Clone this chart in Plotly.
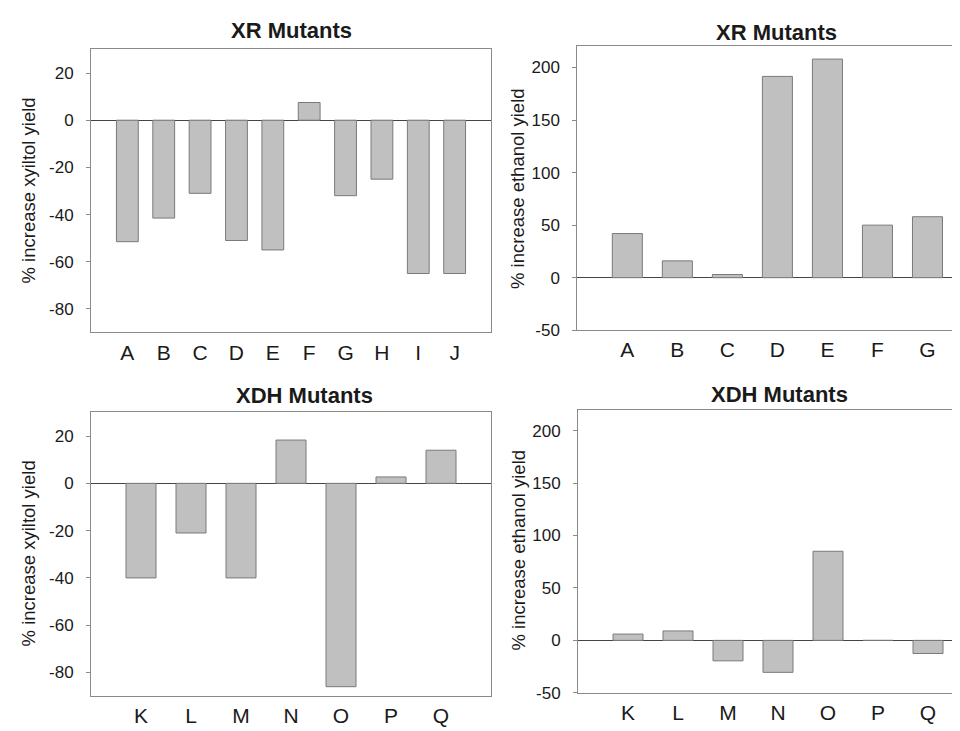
import plotly.graph_objects as go

W, H = 960, 731

# ---- data ----
xr_cats = ["A", "B", "C", "D", "E", "F", "G", "H", "I", "J"]
xr_xylitol = [-51.5, -41.5, -31, -51, -55, 7.5, -32, -25, -65, -65]

xr_eth_cats = ["A", "B", "C", "D", "E", "F", "G"]
xr_ethanol = [42, 16, 3, 191.5, 208, 50, 58]

xdh_cats = ["K", "L", "M", "N", "O", "P", "Q"]
xdh_xylitol = [-40, -21, -40, 18.3, -86, 2.7, 14]
xdh_ethanol = [6, 9, -19.5, -30.5, 85, 0, -12.5]

xyl_ticks = [-80, -60, -40, -20, 0, 20]
xyl_ticktext = ["-80", "-60", "-40", "-20", "0", "20"]
eth_ticks = [-50, 0, 50, 100, 150, 200]
eth_ticktext = ["-50", "0", "50", "100", "150", "200"]

titles = ["XR Mutants", "XR Mutants", "XDH Mutants", "XDH Mutants"]
ytitles = ["% increase xyiltol yield", "% increase ethanol yield",
           "% increase xyiltol yield", "% increase ethanol yield"]

FONT = "Liberation Sans, Arial, sans-serif"
TXT = "#1a1a1a"
AX = "#8a8a8a"

# panel pixel boxes: (left, right, top, bottom)
panels = [
    dict(cats=xr_cats, vals=xr_xylitol, box=(83, 483, 42, 329), yr=[-90, 30],
         tv=xyl_ticks, tt=xyl_ticktext,
         xr=[-1, 10], mirror=True, title_xy=(283, 23), yt_xy=(20, 185)),
    dict(cats=xr_eth_cats, vals=xr_ethanol, box=(569.3, 960, 39, 326.7), yr=[-50, 220],
         tv=eth_ticks, tt=eth_ticktext,
         xr=[-1, 6.81], mirror=False, title_xy=(768, 24.5), yt_xy=(509.5, 183)),
    dict(cats=xdh_cats, vals=xdh_xylitol, box=(83, 483, 410, 697.7), yr=[-90, 30],
         tv=xyl_ticks, tt=xyl_ticktext,
         xr=[-1, 7], mirror=True, title_xy=(296, 392.5), yt_xy=(20, 553)),
    dict(cats=xdh_cats, vals=xdh_ethanol, box=(570, 960, 407.3, 694.3), yr=[-50, 220],
         tv=eth_ticks, tt=eth_ticktext,
         xr=[-1, 6.8], mirror=False, title_xy=(771, 392), yt_xy=(510, 550)),
]

fig = go.Figure()
annotations = []
layout = {}
for i, p in enumerate(panels):
    n = "" if i == 0 else str(i + 1)
    l, r, t, b = p["box"]
    idx = list(range(len(p["cats"])))
    fig.add_trace(go.Bar(
        x=idx, y=p["vals"], width=0.6,
        marker=dict(color="#c0c0c0", line=dict(color="#7a7a7a", width=1)),
        xaxis="x" + n, yaxis="y" + n, showlegend=False, hoverinfo="x+y",
    ))
    layout["xaxis" + n] = dict(
        domain=[l / W, min(r / W, 1.0)], range=p["xr"], anchor="y" + n,
        tickmode="array", tickvals=idx, ticktext=p["cats"],
        showline=True, linecolor=AX, linewidth=1, mirror=True,
        showgrid=False, zeroline=False, ticks="",
        tickfont=dict(family=FONT, size=21, color=TXT), ticklabelstandoff=1,
        fixedrange=True,
    )
    layout["yaxis" + n] = dict(
        domain=[1 - b / H, 1 - t / H], range=p["yr"], anchor="x" + n,
        tickmode="array", tickvals=p["tv"], ticktext=p["tt"],
        showline=True, linecolor=AX, linewidth=1, mirror=p["mirror"],
        showgrid=False, zeroline=True, zerolinecolor="#444444", zerolinewidth=1,
        ticks="outside", ticklen=4, tickcolor=AX, tickwidth=1,
        tickfont=dict(family=FONT, size=17, color=TXT), ticklabelstandoff=9,
        fixedrange=True,
    )
    tx, ty = p["title_xy"]
    annotations.append(dict(
        text="<b>" + titles[i] + "</b>", x=tx / W, y=1 - ty / H,
        xref="paper", yref="paper", showarrow=False, xanchor="center", yanchor="middle",
        font=dict(family=FONT, size=22, color=TXT),
    ))
    yx, yy = p["yt_xy"]
    annotations.append(dict(
        text=ytitles[i], x=yx / W, y=1 - yy / H, textangle=-90,
        xref="paper", yref="paper", showarrow=False, xanchor="center", yanchor="middle",
        font=dict(family=FONT, size=18.5, color=TXT),
    ))

fig.update_layout(
    width=W, height=H, margin=dict(l=0, r=0, t=0, b=0),
    paper_bgcolor="white", plot_bgcolor="white",
    annotations=annotations, **layout,
)
fig.write_html("out.html", config={"displayModeBar": False})
